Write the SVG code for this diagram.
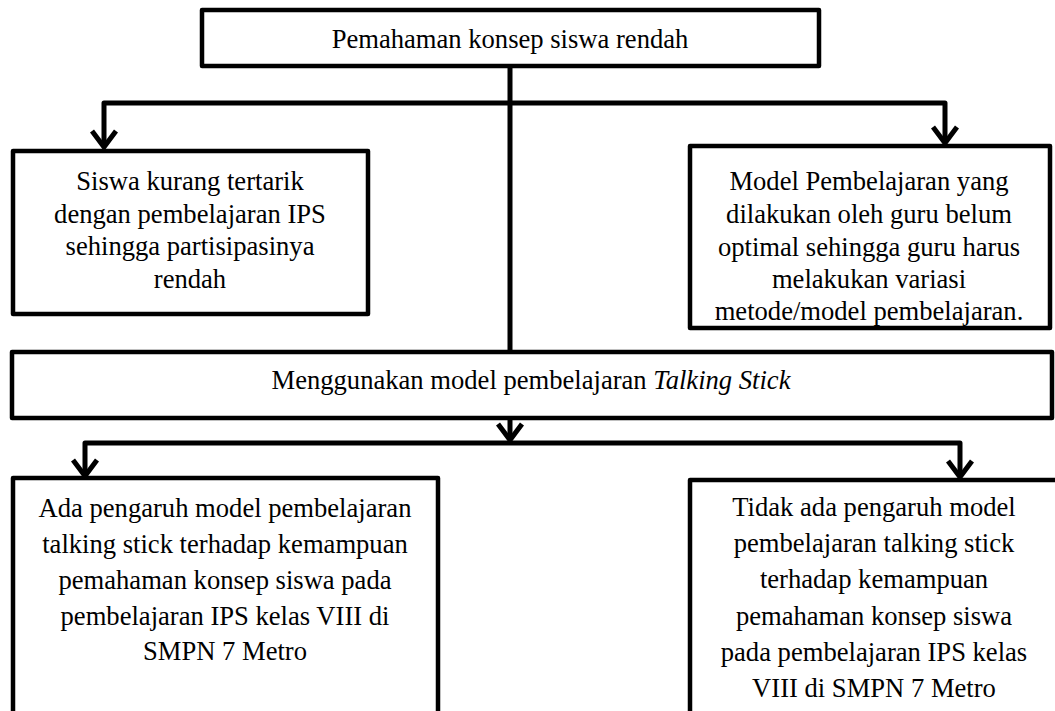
<svg xmlns="http://www.w3.org/2000/svg" width="1055" height="711" viewBox="0 0 1055 711">
<style>
.box{fill:#fff;stroke:#000;stroke-width:4.5;stroke-linejoin:round}
.ln{fill:none;stroke:#000;stroke-width:5;stroke-linejoin:round}
.ah{fill:none;stroke:#000;stroke-width:5;stroke-linejoin:miter;stroke-linecap:butt}
text{font-family:"Liberation Serif","Times New Roman",serif;font-size:26.6px;fill:#000;text-anchor:middle}
</style>
<rect width="1055" height="711" fill="#fff"/>
<g id="connectors">
<path class="ln" d="M510,66 V352"/>
<path class="ln" d="M104,147 V103 H945 V143"/>
<path class="ah" d="M92,131 L104,147 L116,131"/>
<path class="ah" d="M933,127 L945,143 L957,127"/>
<path class="ln" d="M510,418 V440"/>
<path class="ah" d="M498,424 L510,440 L522,424"/>
<path class="ln" d="M85,476 V443 H960 V477"/>
<path class="ah" d="M73,460 L85,476 L97,460"/>
<path class="ah" d="M948,461 L960,477 L972,461"/>
</g>
<g id="n-top">
<rect class="box" x="202" y="10" width="617" height="56"/>
<text x="510" y="48">Pemahaman konsep siswa rendah</text>
</g>
<g id="n-left1">
<rect class="box" x="13" y="151" width="355" height="163"/>
<text x="190" y="190">Siswa kurang tertarik</text>
<text x="190" y="223">dengan pembelajaran IPS</text>
<text x="190" y="255">sehingga partisipasinya</text>
<text x="190" y="288">rendah</text>
</g>
<g id="n-right1">
<rect class="box" x="690" y="146" width="360" height="182"/>
<text x="869" y="190">Model Pembelajaran yang</text>
<text x="869" y="223">dilakukan oleh guru belum</text>
<text x="869" y="256">optimal sehingga guru harus</text>
<text x="869" y="288">melakukan variasi</text>
<text x="869" y="320">metode/model pembelajaran.</text>
</g>
<g id="n-mid">
<rect class="box" x="12" y="352" width="1040" height="66"/>
<text x="531" y="389">Menggunakan model pembelajaran <tspan font-style="italic">Talking Stick</tspan></text>
</g>
<g id="n-left2">
<rect class="box" x="13" y="478" width="425" height="245"/>
<text x="225" y="517">Ada pengaruh model pembelajaran</text>
<text x="225" y="553">talking stick terhadap kemampuan</text>
<text x="225" y="589">pemahaman konsep siswa pada</text>
<text x="225" y="625">pembelajaran IPS kelas VIII di</text>
<text x="225" y="660">SMPN 7 Metro</text>
</g>
<g id="n-right2">
<rect class="box" x="690" y="480" width="372" height="245"/>
<text x="874" y="516">Tidak ada pengaruh model</text>
<text x="874" y="552">pembelajaran talking stick</text>
<text x="874" y="588">terhadap kemampuan</text>
<text x="874" y="625">pemahaman konsep siswa</text>
<text x="874" y="661">pada pembelajaran IPS kelas</text>
<text x="874" y="697">VIII di SMPN 7 Metro</text>
</g>
</svg>
